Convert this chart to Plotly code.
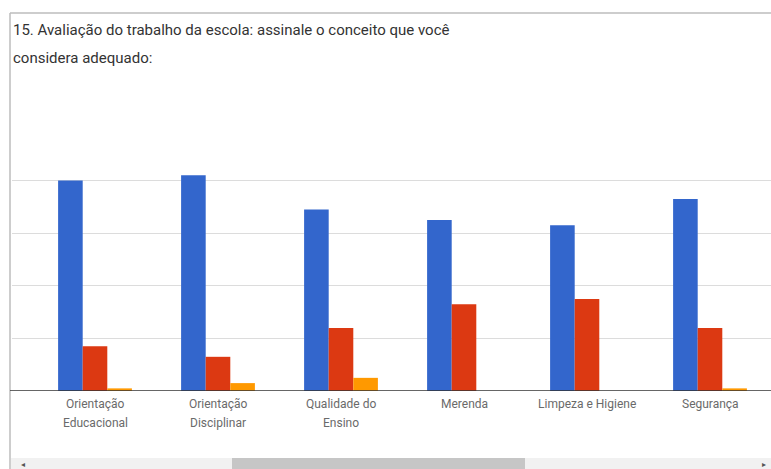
import plotly.graph_objects as go

# Categories and response counts per rating level
categories = [
    "Orientação<br>Educacional",
    "Orientação<br>Disciplinar",
    "Qualidade do<br>Ensino",
    "Merenda",
    "Limpeza e Higiene",
    "Segurança",
]
series_names = ["Ótimo", "Bom", "Regular"]
otimo = [80, 82, 69, 65, 63, 73]
bom = [17, 13, 24, 33, 35, 24]
regular = [1, 3, 5, 0, 0, 1]
y_ticks = [0, 20, 40, 60, 80]

colors = ["#3366cc", "#dc3912", "#ff9900"]

W, H = 771, 469
ML, MR, MT, MB = 12, 0, 128, 78
PW, PH = W - ML - MR, H - MT - MB


def px(x):
    return (x - ML) / PW


def py(y):
    return (H - MB - y) / PH


fig = go.Figure()
xs = list(range(len(categories)))
for name, vals, col in zip(series_names, [otimo, bom, regular], colors):
    fig.add_trace(go.Bar(x=xs, y=vals, name=name, marker=dict(color=col, line=dict(width=0))))

cat_w = 123
x0 = -(95 - ML) / cat_w
x1 = x0 + PW / cat_w

fig.update_layout(
    width=W, height=H,
    margin=dict(l=ML, r=MR, t=MT, b=MB),
    paper_bgcolor="white", plot_bgcolor="white",
    barmode="group", bargap=0.4, bargroupgap=0,
    showlegend=False,
    xaxis=dict(
        range=[x0, x1], tickmode="array", tickvals=xs, showticklabels=False,
        showgrid=False, zeroline=False, showline=False, ticks="",
        fixedrange=True,
    ),
    yaxis=dict(
        range=[0, 100], tickmode="array", tickvals=y_ticks, showticklabels=False,
        showgrid=True, gridcolor="#dcdcdc", gridwidth=1, zeroline=False, showline=False,
        fixedrange=True,
    ),
)

shapes = []
# frame around the card
shapes.append(dict(type="line", xref="paper", yref="paper", x0=px(10), x1=px(771), y0=py(13), y1=py(13),
                   line=dict(color="#bdbdbd", width=1.5)))
shapes.append(dict(type="line", xref="paper", yref="paper", x0=px(10), x1=px(10), y0=py(13), y1=py(469),
                   line=dict(color="#bdbdbd", width=1.5)))
# baseline
shapes.append(dict(type="line", xref="paper", yref="y", x0=px(10), x1=px(771), y0=0, y1=0,
                   line=dict(color="#333333", width=1.5)))
# scrollbar track and thumb
shapes.append(dict(type="rect", xref="paper", yref="paper", x0=px(11), x1=px(771), y0=py(458), y1=py(469),
                   fillcolor="#f1f1f1", line=dict(width=0)))
shapes.append(dict(type="rect", xref="paper", yref="paper", x0=px(232), x1=px(525), y0=py(458), y1=py(469),
                   fillcolor="#c6c6c6", line=dict(width=0)))
fig.update_layout(shapes=shapes)

# category labels, one annotation per line for wider line spacing
label_font = dict(family="Roboto, sans-serif", size=12, color="#6a6a6a")
for i, cat in enumerate(categories):
    for j, line in enumerate(cat.split("<br>")):
        fig.add_annotation(text=line, xref="x", yref="paper", x=i, y=py(404 + 19 * j),
                           xanchor="center", yanchor="middle", showarrow=False, font=label_font)

title_font = dict(family="Roboto, sans-serif", size=15, color="#333333")
fig.add_annotation(text="15. Avaliação do trabalho da escola: assinale o conceito que você",
                   xref="paper", yref="paper", x=px(11), y=py(30), xanchor="left", yanchor="middle",
                   showarrow=False, font=title_font)
fig.add_annotation(text="considera adequado:",
                   xref="paper", yref="paper", x=px(11), y=py(58), xanchor="left", yanchor="middle",
                   showarrow=False, font=title_font)
fig.add_annotation(text="◂", xref="paper", yref="paper", x=px(23), y=py(463), xanchor="center", yanchor="middle",
                   showarrow=False, font=dict(size=8, color="#555555"))
fig.add_annotation(text="▸", xref="paper", yref="paper", x=px(764), y=py(463), xanchor="center", yanchor="middle",
                   showarrow=False, font=dict(size=8, color="#555555"))

fig.write_html("out.html")
